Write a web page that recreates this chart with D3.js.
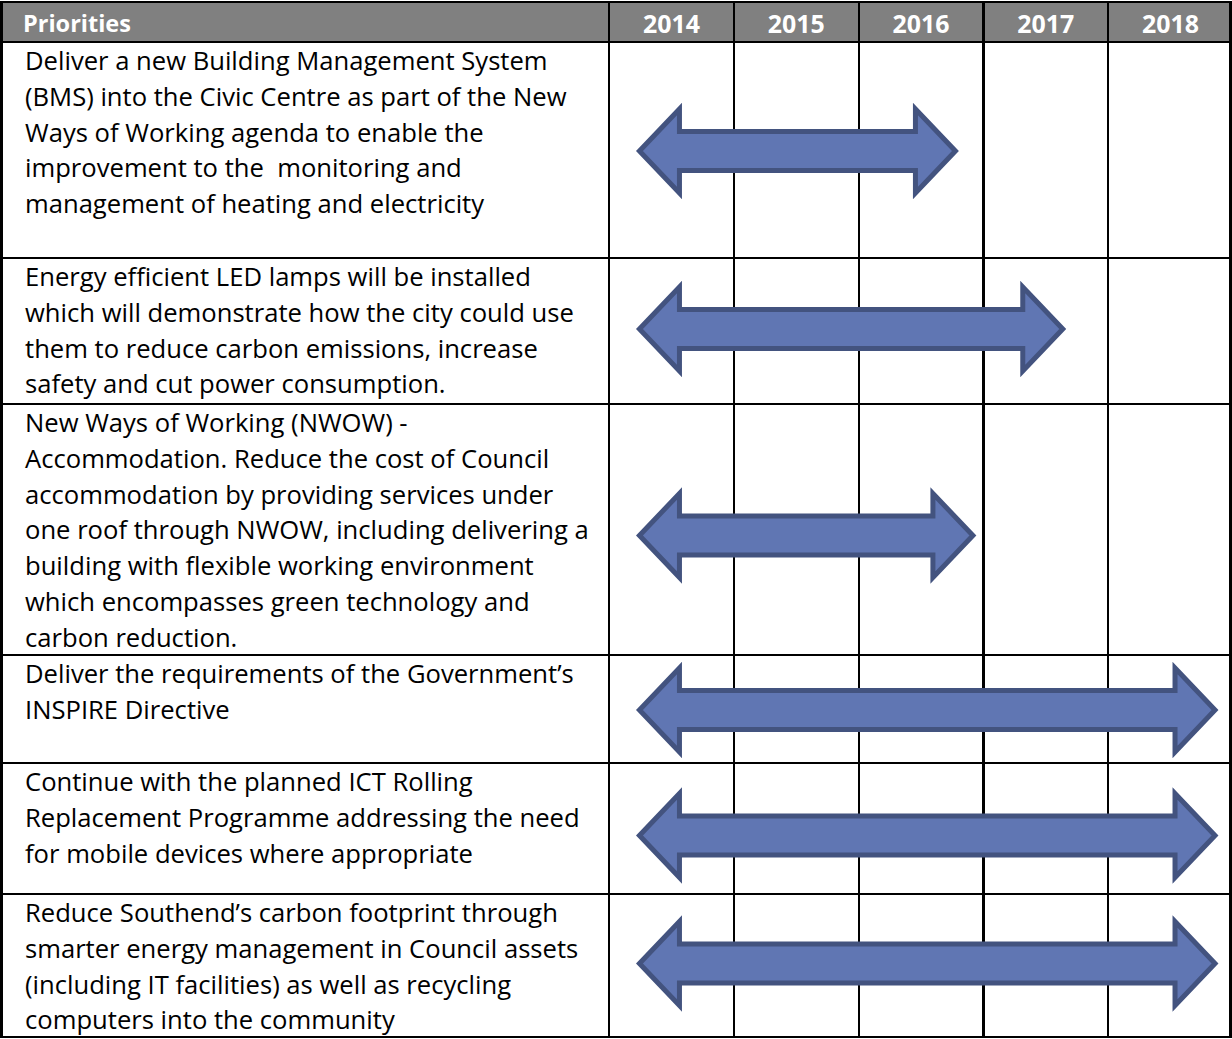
<!DOCTYPE html>
<html>
<head>
<meta charset="utf-8">
<script src="https://d3js.org/d3.v7.min.js"></script>
<style>
	html, body { margin: 0; padding: 0; background: #fff; }
	svg { display: block; }
	text { font-variant-ligatures: none; }
</style>
</head>
<body>
<div id="plan"></div>
<script>
var years = ['2014', '2015', '2016', '2017', '2018'];
var headTitle = 'Priorities';

var priorities = [
	['Deliver a new Building Management System',
		'(BMS) into the Civic Centre as part of the New',
		'Ways of Working agenda to enable the',
		'improvement to the  monitoring and',
		'management of heating and electricity'],
	['Energy efficient LED lamps will be installed',
		'which will demonstrate how the city could use',
		'them to reduce carbon emissions, increase',
		'safety and cut power consumption.'],
	['New Ways of Working (NWOW) -',
		'Accommodation. Reduce the cost of Council',
		'accommodation by providing services under',
		'one roof through NWOW, including delivering a',
		'building with flexible working environment',
		'which encompasses green technology and',
		'carbon reduction.'],
	['Deliver the requirements of the Government\u2019s',
		'INSPIRE Directive'],
	['Continue with the planned ICT Rolling',
		'Replacement Programme addressing the need',
		'for mobile devices where appropriate'],
	['Reduce Southend\u2019s carbon footprint through',
		'smarter energy management in Council assets',
		'(including IT facilities) as well as recycling',
		'computers into the community']
];

// arrow ends, in years (2014.0 = start of the 2014 column)
var arrowStart = [2014.22, 2014.22, 2014.22, 2014.22, 2014.22, 2014.22];
var arrowEnd = [2016.80, 2017.66, 2016.94, 2018.88, 2018.88, 2018.88];

(function() {
	var width = 1232,
		height = 1039,
		headTop = 2,
		headBottom = 42,
		textLeft = 25,
		lineGap = 35.8,
		font = '"Open Sans", Lato, sans-serif',
		rowHeights = [216, 146, 251, 108, 131, 143],
		arrowShift = [1, -2, 6, 1, 7, -2];

	var svg = d3.select('#plan').append('svg')
		.attr('width', width)
		.attr('height', height);

	var x = d3.scaleLinear()
		.domain([2014, 2019])
		.range([609, 1233]);

	var rowTops = [];
	var acc = headBottom;
	rowHeights.forEach(function(h) { rowTops.push(acc); acc += h; });
	var tableBottom = acc;

	// fit the fallback font to the widths of the original Calibri text
	var probe = svg.append('text')
		.attr('font-family', font)
		.attr('font-size', 100)
		.text(priorities[0][0]);
	var bodySize = 100 * 523 / probe.node().getComputedTextLength();
	probe.attr('font-weight', 'bold').text(headTitle);
	var headSize = 100 * 108 / probe.node().getComputedTextLength();
	probe.text(years[1]);
	var yearSize = 100 * 57 / probe.node().getComputedTextLength();
	probe.remove();

	svg.append('rect')
		.attr('x', 0)
		.attr('y', headTop)
		.attr('width', width)
		.attr('height', headBottom - headTop)
		.attr('fill', '#808080');

	var head = svg.append('g')
		.attr('font-family', font)
		.attr('font-weight', 'bold')
		.attr('fill', '#fff');
	head.append('text')
		.attr('x', textLeft - 2)
		.attr('y', 32)
		.attr('font-size', headSize)
		.text(headTitle);
	head.selectAll('.year')
		.data(years)
		.enter()
		.append('text')
		.attr('class', 'year')
		.attr('x', function(d) { return x(+d + 0.5); })
		.attr('y', 33)
		.attr('font-size', yearSize)
		.attr('text-anchor', 'middle')
		.text(function(d) { return d; });

	// priority text
	var rows = svg.selectAll('.row')
		.data(priorities)
		.enter()
		.append('g')
		.attr('class', 'row')
		.attr('transform', function(d, i) { return 'translate(0,' + rowTops[i] + ')'; });
	rows.selectAll('text')
		.data(function(d) { return d; })
		.enter()
		.append('text')
		.attr('x', textLeft)
		.attr('y', function(d, j) { return 28 + j * lineGap; })
		.attr('font-family', font)
		.attr('font-size', bodySize)
		.attr('fill', '#000')
		.style('white-space', 'pre')
		.text(function(d) { return d; });

	// grid
	var grid = svg.append('g')
		.attr('stroke', '#000')
		.attr('stroke-width', 2.2)
		.attr('shape-rendering', 'crispEdges');
	var hLines = [headTop, headBottom].concat(rowTops.slice(1), [tableBottom]);
	grid.selectAll('.h')
		.data(hLines)
		.enter()
		.append('line')
		.attr('x1', 0)
		.attr('x2', width)
		.attr('y1', function(d) { return d; })
		.attr('y2', function(d) { return d; });
	var vLines = [1.5].concat(years.map(function(d) { return x(+d); }), [1230.5]);
	grid.selectAll('.v')
		.data(vLines)
		.enter()
		.append('line')
		.attr('x1', function(d) { return d; })
		.attr('x2', function(d) { return d; })
		.attr('y1', headTop)
		.attr('y2', tableBottom);

	// double headed arrows
	var headLen = 40,
		headHalf = 42,
		shaftHalf = 19.5;
	var arrowPath = function(x0, x1, cy) {
		x0 += 3;
		x1 -= 3;
		var pts = [
			[x0, cy],
			[x0 + headLen, cy - headHalf],
			[x0 + headLen, cy - shaftHalf],
			[x1 - headLen, cy - shaftHalf],
			[x1 - headLen, cy - headHalf],
			[x1, cy],
			[x1 - headLen, cy + headHalf],
			[x1 - headLen, cy + shaftHalf],
			[x0 + headLen, cy + shaftHalf],
			[x0 + headLen, cy + headHalf]
		];
		return d3.line()(pts) + 'Z';
	};
	svg.selectAll('.arrow')
		.data(arrowStart)
		.enter()
		.append('path')
		.attr('class', 'arrow')
		.attr('d', function(d, i) {
			return arrowPath(x(d), x(arrowEnd[i]), rowTops[i] + rowHeights[i] / 2 + arrowShift[i]);
		})
		.attr('fill', '#6076b3')
		.attr('stroke', '#43537f')
		.attr('stroke-width', 5)
		.attr('stroke-linejoin', 'miter');
})();
</script>
</body>
</html>
